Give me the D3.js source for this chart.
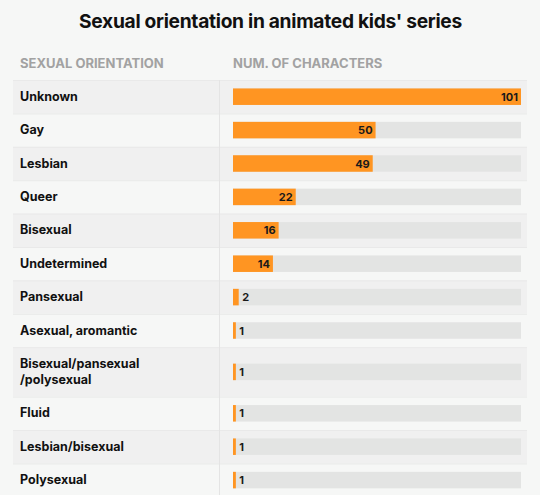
<!DOCTYPE html>
<html><head><meta charset="utf-8">
<script src="https://cdn.jsdelivr.net/npm/d3@7"></script>
<style>
html,body{margin:0;padding:0;background:#f6f7f6;}
svg{display:block;font-family:Inter,"Liberation Sans",sans-serif;}
</style></head><body>
<svg id="chart" width="540" height="495"></svg>
<script>
const categories = ["Unknown","Gay","Lesbian","Queer","Bisexual","Undetermined","Pansexual","Asexual, aromantic","Bisexual/pansexual\n/polysexual","Fluid","Lesbian/bisexual","Polysexual"];
const values = [101,50,49,22,16,14,2,1,1,1,1,1];
const title = "Sexual orientation in animated kids' series";
const headers = ["SEXUAL ORIENTATION","NUM. OF CHARACTERS"];

const svg = d3.select("#chart");
const W = 540, H = 495;
svg.append("rect").attr("width",W).attr("height",H).attr("fill","#f6f7f6");

svg.append("text").attr("x",270.5).attr("y",28).attr("text-anchor","middle")
  .attr("font-size",19.2).attr("font-weight",700).attr("fill","#111").attr("letter-spacing",-0.3).text(title);

svg.append("text").attr("x",20).attr("y",68).attr("font-size",13).attr("font-weight",700).attr("fill","#a2a2a2").text(headers[0]);
svg.append("text").attr("x",233).attr("y",68).attr("font-size",13).attr("font-weight",700).attr("fill","#a2a2a2").text(headers[1]);

const baseH = 33.4, extraLine = 16;
const rows = [];
let y0 = 80;
categories.forEach((c,i)=>{
  const lines = c.split("\n");
  const h = baseH + (lines.length-1)*extraLine;
  rows.push({cat:c, lines, value:values[i], y:y0, h, i});
  y0 += h;
});

const x = d3.scaleLinear().domain([0, d3.max(values)]).range([233, 521]);
const barH = 16.5;

const g = svg.append("g");
const row = g.selectAll("g.row").data(rows).join("g").attr("class","row");

row.append("rect").attr("x",13).attr("y",d=>d.y).attr("width",514).attr("height",d=>d.h)
  .attr("fill",d=>d.i%2===0?"#f0f0f0":"#f6f7f6");
row.append("line").attr("x1",13).attr("x2",527).attr("y1",d=>d.y+0.5).attr("y2",d=>d.y+0.5)
  .attr("stroke","#e9e9e9").attr("stroke-width",1);

row.append("rect").attr("x",x(0)).attr("y",d=>d.y+d.h/2-barH/2).attr("width",x(d3.max(values))-x(0)).attr("height",barH)
  .attr("fill","#e3e4e3");
row.append("rect").attr("x",x(0)).attr("y",d=>d.y+d.h/2-barH/2).attr("width",d=>x(d.value)-x(0)).attr("height",barH)
  .attr("fill","#ff9522");

row.each(function(d){
  const sel = d3.select(this);
  const t = sel.append("text").attr("x",20).attr("font-size",12.5).attr("font-weight",700).attr("fill","#111");
  const n = d.lines.length;
  d.lines.forEach((ln,k)=>{
    t.append("tspan").attr("x",20).attr("y",d.y+d.h/2+4+(k-(n-1)/2)*16.5).text(ln);
  });
  const inside = x(d.value)-x(0) > 25;
  sel.append("text").attr("x",inside? x(d.value)-3 : x(d.value)+3.5)
    .attr("y",d.y+d.h/2+4).attr("text-anchor",inside?"end":"start")
    .attr("font-size",11).attr("font-weight",700).attr("fill","#1a1a1a").text(d.value);
});

g.append("line").attr("x1",219.5).attr("x2",219.5).attr("y1",80).attr("y2",H)
  .attr("stroke","#e4e4e4").attr("stroke-width",1);
</script>
</body></html>
